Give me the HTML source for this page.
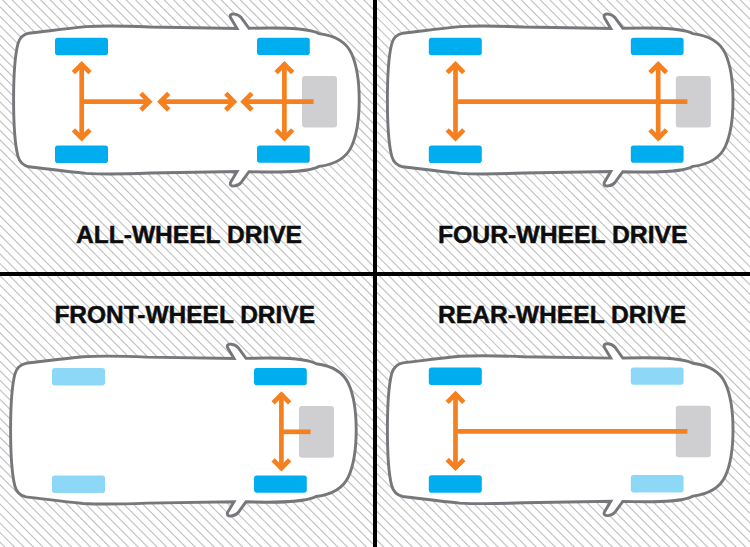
<!DOCTYPE html>
<html><head><meta charset="utf-8">
<style>
html,body{margin:0;padding:0;background:#fff;}
body{width:750px;height:547px;overflow:hidden;position:relative;}
svg{position:absolute;left:0;top:0;display:block;}
.t{font-family:"Liberation Sans",sans-serif;font-weight:bold;fill:#0d0d0d;stroke:#0d0d0d;stroke-width:0.45px;}
</style></head><body>
<svg width="750" height="547" viewBox="0 0 750 547">
<defs>
<clipPath id="q1"><rect x="0" y="0" width="373" height="272"/></clipPath>
<clipPath id="q2"><rect x="377" y="0" width="373" height="272"/></clipPath>
<clipPath id="q3"><rect x="0" y="276" width="373" height="271"/></clipPath>
<clipPath id="q4"><rect x="377" y="276" width="373" height="271"/></clipPath>
</defs>
<rect width="750" height="547" fill="#fff"/>
<path clip-path="url(#q1)" d="M-293.99,-2.00L-17.99,274.00M-284.49,-2.00L-8.49,274.00M-274.98,-2.00L1.02,274.00M-265.48,-2.00L10.52,274.00M-255.97,-2.00L20.03,274.00M-246.47,-2.00L29.53,274.00M-236.96,-2.00L39.04,274.00M-227.46,-2.00L48.54,274.00M-217.95,-2.00L58.05,274.00M-208.44,-2.00L67.56,274.00M-198.94,-2.00L77.06,274.00M-189.44,-2.00L86.56,274.00M-179.93,-2.00L96.07,274.00M-170.43,-2.00L105.57,274.00M-160.92,-2.00L115.08,274.00M-151.42,-2.00L124.58,274.00M-141.91,-2.00L134.09,274.00M-132.41,-2.00L143.59,274.00M-122.90,-2.00L153.10,274.00M-113.40,-2.00L162.60,274.00M-103.89,-2.00L172.11,274.00M-94.39,-2.00L181.62,274.00M-84.88,-2.00L191.12,274.00M-75.38,-2.00L200.62,274.00M-65.87,-2.00L210.13,274.00M-56.36,-2.00L219.63,274.00M-46.86,-2.00L229.14,274.00M-37.36,-2.00L238.64,274.00M-27.85,-2.00L248.15,274.00M-18.34,-2.00L257.65,274.00M-8.84,-2.00L267.16,274.00M0.67,-2.00L276.67,274.00M10.17,-2.00L286.17,274.00M19.68,-2.00L295.68,274.00M29.18,-2.00L305.18,274.00M38.69,-2.00L314.69,274.00M48.19,-2.00L324.19,274.00M57.70,-2.00L333.70,274.00M67.20,-2.00L343.20,274.00M76.71,-2.00L352.71,274.00M86.21,-2.00L362.21,274.00M95.72,-2.00L371.72,274.00M105.22,-2.00L381.22,274.00M114.73,-2.00L390.73,274.00M124.23,-2.00L400.23,274.00M133.74,-2.00L409.74,274.00M143.24,-2.00L419.24,274.00M152.75,-2.00L428.75,274.00M162.25,-2.00L438.25,274.00M171.76,-2.00L447.75,274.00M181.26,-2.00L457.26,274.00M190.77,-2.00L466.76,274.00M200.27,-2.00L476.27,274.00M209.78,-2.00L485.77,274.00M219.28,-2.00L495.28,274.00M228.78,-2.00L504.78,274.00M238.29,-2.00L514.29,274.00M247.80,-2.00L523.80,274.00M257.30,-2.00L533.30,274.00M266.81,-2.00L542.81,274.00M276.31,-2.00L552.31,274.00M285.82,-2.00L561.82,274.00M295.32,-2.00L571.32,274.00M304.83,-2.00L580.83,274.00M314.33,-2.00L590.33,274.00M323.84,-2.00L599.84,274.00M333.34,-2.00L609.34,274.00M342.85,-2.00L618.85,274.00M352.35,-2.00L628.35,274.00M361.86,-2.00L637.86,274.00M371.36,-2.00L647.36,274.00M380.87,-2.00L656.87,274.00M390.37,-2.00L666.37,274.00" stroke="#c4c4c4" stroke-width="1.2" fill="none"/>
<path clip-path="url(#q2)" d="M81.42,-2.00L357.42,274.00M90.94,-2.00L366.94,274.00M100.46,-2.00L376.46,274.00M109.98,-2.00L385.98,274.00M119.50,-2.00L395.50,274.00M129.02,-2.00L405.02,274.00M138.54,-2.00L414.54,274.00M148.06,-2.00L424.06,274.00M157.58,-2.00L433.58,274.00M167.10,-2.00L443.10,274.00M176.62,-2.00L452.62,274.00M186.14,-2.00L462.14,274.00M195.66,-2.00L471.66,274.00M205.18,-2.00L481.18,274.00M214.70,-2.00L490.70,274.00M224.22,-2.00L500.22,274.00M233.74,-2.00L509.74,274.00M243.26,-2.00L519.26,274.00M252.78,-2.00L528.78,274.00M262.30,-2.00L538.30,274.00M271.82,-2.00L547.82,274.00M281.34,-2.00L557.34,274.00M290.86,-2.00L566.86,274.00M300.38,-2.00L576.38,274.00M309.90,-2.00L585.90,274.00M319.42,-2.00L595.42,274.00M328.94,-2.00L604.94,274.00M338.46,-2.00L614.46,274.00M347.98,-2.00L623.98,274.00M357.50,-2.00L633.50,274.00M367.02,-2.00L643.02,274.00M376.54,-2.00L652.54,274.00M386.06,-2.00L662.06,274.00M395.58,-2.00L671.58,274.00M405.10,-2.00L681.10,274.00M414.62,-2.00L690.62,274.00M424.14,-2.00L700.14,274.00M433.66,-2.00L709.66,274.00M443.18,-2.00L719.18,274.00M452.70,-2.00L728.70,274.00M462.22,-2.00L738.22,274.00M471.74,-2.00L747.74,274.00M481.26,-2.00L757.26,274.00M490.78,-2.00L766.78,274.00M500.30,-2.00L776.30,274.00M509.82,-2.00L785.82,274.00M519.34,-2.00L795.34,274.00M528.86,-2.00L804.86,274.00M538.38,-2.00L814.38,274.00M547.90,-2.00L823.90,274.00M557.42,-2.00L833.42,274.00M566.94,-2.00L842.94,274.00M576.46,-2.00L852.46,274.00M585.98,-2.00L861.98,274.00M595.50,-2.00L871.50,274.00M605.02,-2.00L881.02,274.00M614.54,-2.00L890.54,274.00M624.06,-2.00L900.06,274.00M633.58,-2.00L909.58,274.00M643.10,-2.00L919.10,274.00M652.62,-2.00L928.62,274.00M662.14,-2.00L938.14,274.00M671.66,-2.00L947.66,274.00M681.18,-2.00L957.18,274.00M690.70,-2.00L966.70,274.00M700.22,-2.00L976.22,274.00M709.74,-2.00L985.74,274.00M719.26,-2.00L995.26,274.00M728.78,-2.00L1004.78,274.00M738.30,-2.00L1014.30,274.00M747.82,-2.00L1023.82,274.00M757.34,-2.00L1033.34,274.00M766.86,-2.00L1042.86,274.00M776.38,-2.00L1052.38,274.00" stroke="#c4c4c4" stroke-width="1.2" fill="none"/>
<path clip-path="url(#q3)" d="M-296.56,274.00L-21.56,549.00M-287.05,274.00L-12.05,549.00M-277.54,274.00L-2.54,549.00M-268.03,274.00L6.97,549.00M-258.52,274.00L16.48,549.00M-249.01,274.00L25.99,549.00M-239.50,274.00L35.50,549.00M-229.99,274.00L45.01,549.00M-220.48,274.00L54.52,549.00M-210.97,274.00L64.03,549.00M-201.46,274.00L73.54,549.00M-191.95,274.00L83.05,549.00M-182.44,274.00L92.56,549.00M-172.93,274.00L102.07,549.00M-163.42,274.00L111.58,549.00M-153.91,274.00L121.09,549.00M-144.40,274.00L130.60,549.00M-134.89,274.00L140.11,549.00M-125.38,274.00L149.62,549.00M-115.87,274.00L159.13,549.00M-106.36,274.00L168.64,549.00M-96.85,274.00L178.15,549.00M-87.34,274.00L187.66,549.00M-77.83,274.00L197.17,549.00M-68.32,274.00L206.68,549.00M-58.81,274.00L216.19,549.00M-49.30,274.00L225.70,549.00M-39.79,274.00L235.21,549.00M-30.28,274.00L244.72,549.00M-20.77,274.00L254.23,549.00M-11.26,274.00L263.74,549.00M-1.75,274.00L273.25,549.00M7.76,274.00L282.76,549.00M17.27,274.00L292.27,549.00M26.78,274.00L301.78,549.00M36.29,274.00L311.29,549.00M45.80,274.00L320.80,549.00M55.31,274.00L330.31,549.00M64.82,274.00L339.82,549.00M74.33,274.00L349.33,549.00M83.84,274.00L358.84,549.00M93.35,274.00L368.35,549.00M102.86,274.00L377.86,549.00M112.37,274.00L387.37,549.00M121.88,274.00L396.88,549.00M131.39,274.00L406.39,549.00M140.90,274.00L415.90,549.00M150.41,274.00L425.41,549.00M159.92,274.00L434.92,549.00M169.43,274.00L444.43,549.00M178.94,274.00L453.94,549.00M188.45,274.00L463.45,549.00M197.96,274.00L472.96,549.00M207.47,274.00L482.47,549.00M216.98,274.00L491.98,549.00M226.49,274.00L501.49,549.00M236.00,274.00L511.00,549.00M245.51,274.00L520.51,549.00M255.02,274.00L530.02,549.00M264.53,274.00L539.53,549.00M274.04,274.00L549.04,549.00M283.55,274.00L558.55,549.00M293.06,274.00L568.06,549.00M302.57,274.00L577.57,549.00M312.08,274.00L587.08,549.00M321.59,274.00L596.59,549.00M331.10,274.00L606.10,549.00M340.61,274.00L615.61,549.00M350.12,274.00L625.12,549.00M359.63,274.00L634.63,549.00M369.14,274.00L644.14,549.00M378.65,274.00L653.65,549.00M388.16,274.00L663.16,549.00M397.67,274.00L672.67,549.00" stroke="#c4c4c4" stroke-width="1.2" fill="none"/>
<path clip-path="url(#q4)" d="M82.28,274.00L357.28,549.00M91.80,274.00L366.80,549.00M101.32,274.00L376.32,549.00M110.84,274.00L385.84,549.00M120.36,274.00L395.36,549.00M129.88,274.00L404.88,549.00M139.40,274.00L414.40,549.00M148.92,274.00L423.92,549.00M158.44,274.00L433.44,549.00M167.96,274.00L442.96,549.00M177.48,274.00L452.48,549.00M187.00,274.00L462.00,549.00M196.52,274.00L471.52,549.00M206.04,274.00L481.04,549.00M215.56,274.00L490.56,549.00M225.08,274.00L500.08,549.00M234.60,274.00L509.60,549.00M244.12,274.00L519.12,549.00M253.64,274.00L528.64,549.00M263.16,274.00L538.16,549.00M272.68,274.00L547.68,549.00M282.20,274.00L557.20,549.00M291.72,274.00L566.72,549.00M301.24,274.00L576.24,549.00M310.76,274.00L585.76,549.00M320.28,274.00L595.28,549.00M329.80,274.00L604.80,549.00M339.32,274.00L614.32,549.00M348.84,274.00L623.84,549.00M358.36,274.00L633.36,549.00M367.88,274.00L642.88,549.00M377.40,274.00L652.40,549.00M386.92,274.00L661.92,549.00M396.44,274.00L671.44,549.00M405.96,274.00L680.96,549.00M415.48,274.00L690.48,549.00M425.00,274.00L700.00,549.00M434.52,274.00L709.52,549.00M444.04,274.00L719.04,549.00M453.56,274.00L728.56,549.00M463.08,274.00L738.08,549.00M472.60,274.00L747.60,549.00M482.12,274.00L757.12,549.00M491.64,274.00L766.64,549.00M501.16,274.00L776.16,549.00M510.68,274.00L785.68,549.00M520.20,274.00L795.20,549.00M529.72,274.00L804.72,549.00M539.24,274.00L814.24,549.00M548.76,274.00L823.76,549.00M558.28,274.00L833.28,549.00M567.80,274.00L842.80,549.00M577.32,274.00L852.32,549.00M586.84,274.00L861.84,549.00M596.36,274.00L871.36,549.00M605.88,274.00L880.88,549.00M615.40,274.00L890.40,549.00M624.92,274.00L899.92,549.00M634.44,274.00L909.44,549.00M643.96,274.00L918.96,549.00M653.48,274.00L928.48,549.00M663.00,274.00L938.00,549.00M672.52,274.00L947.52,549.00M682.04,274.00L957.04,549.00M691.56,274.00L966.56,549.00M701.08,274.00L976.08,549.00M710.60,274.00L985.60,549.00M720.12,274.00L995.12,549.00M729.64,274.00L1004.64,549.00M739.16,274.00L1014.16,549.00M748.68,274.00L1023.68,549.00M758.20,274.00L1033.20,549.00M767.72,274.00L1042.72,549.00" stroke="#c4c4c4" stroke-width="1.2" fill="none"/>
<g transform="translate(0,0)"><path d="M13.60,100.00C13.60,82.00 14.80,56.00 17.90,44.00C19.40,38.20 22.20,34.60 29.00,33.20C45.00,31.60 62.00,28.80 86.00,26.60C105.00,25.60 125.00,26.00 150.00,27.00L237.00,28.40L230.80,18.00C229.20,14.80 231.50,13.80 234.50,14.10C237.50,14.40 239.50,15.60 241.40,17.80L249.00,28.30C275.00,27.60 303.00,27.20 316.50,32.40L319.00,33.60C333.00,35.30 345.50,40.50 351.50,53.50C356.50,64.50 359.20,80.00 359.20,100.00C359.20,120.00 356.50,135.50 351.50,146.50C345.50,159.50 333.00,164.70 319.00,166.40L316.50,167.60C303.00,172.80 275.00,172.40 249.00,171.70L241.40,182.20C239.50,184.40 237.50,185.60 234.50,185.90C231.50,186.20 229.20,185.20 230.80,182.00L237.00,171.60L150.00,173.00C125.00,174.00 105.00,174.40 86.00,173.40C62.00,171.20 45.00,168.40 29.00,166.80C22.20,165.40 19.40,161.80 17.90,156.00C14.80,144.00 13.60,118.00 13.60,100.00Z" fill="#fff" stroke="#76777b" stroke-width="2.9"/>
<rect x="55.0" y="37.8" width="53" height="17.5" rx="2.8" fill="#00aeef"/>
<rect x="55.0" y="145.5" width="53" height="17.5" rx="2.8" fill="#00aeef"/>
<rect x="257.0" y="37.8" width="52.8" height="17.3" rx="2.8" fill="#00aeef"/>
<rect x="257.0" y="145.4" width="52.8" height="17.3" rx="2.8" fill="#00aeef"/>
<rect x="302" y="76" width="35" height="51.6" rx="3" fill="#cfcfd2"/>
<g fill="none" stroke="#f5801f" stroke-width="4.7" stroke-linejoin="miter" stroke-miterlimit="4">
<line x1="81.7" y1="63.2" x2="81.7" y2="139.3"/><polyline points="73.4,72.7 81.7,64.4 90.0,72.7"/><polyline points="73.4,129.8 81.7,138.10000000000002 90.0,129.8"/>
<line x1="284.4" y1="63.2" x2="284.4" y2="139.3"/><polyline points="276.09999999999997,72.7 284.4,64.4 292.7,72.7"/><polyline points="276.09999999999997,129.8 284.4,138.10000000000002 292.7,129.8"/>
<line x1="81.7" y1="101.7" x2="150" y2="101.7"/><polyline points="140.9,93.4 149.20000000000002,101.7 140.9,110.0"/>
<line x1="159.5" y1="101.7" x2="235" y2="101.7"/><polyline points="168.7,93.4 160.39999999999998,101.7 168.7,110.0"/><polyline points="225.7,93.4 234.0,101.7 225.7,110.0"/>
<line x1="242.5" y1="101.7" x2="313.6" y2="101.7"/><polyline points="251.9,93.4 243.6,101.7 251.9,110.0"/>
</g></g>
<g transform="translate(373.8,0)"><path d="M13.60,100.00C13.60,82.00 14.80,56.00 17.90,44.00C19.40,38.20 22.20,34.60 29.00,33.20C45.00,31.60 62.00,28.80 86.00,26.60C105.00,25.60 125.00,26.00 150.00,27.00L237.00,28.40L230.80,18.00C229.20,14.80 231.50,13.80 234.50,14.10C237.50,14.40 239.50,15.60 241.40,17.80L249.00,28.30C275.00,27.60 303.00,27.20 316.50,32.40L319.00,33.60C333.00,35.30 345.50,40.50 351.50,53.50C356.50,64.50 359.20,80.00 359.20,100.00C359.20,120.00 356.50,135.50 351.50,146.50C345.50,159.50 333.00,164.70 319.00,166.40L316.50,167.60C303.00,172.80 275.00,172.40 249.00,171.70L241.40,182.20C239.50,184.40 237.50,185.60 234.50,185.90C231.50,186.20 229.20,185.20 230.80,182.00L237.00,171.60L150.00,173.00C125.00,174.00 105.00,174.40 86.00,173.40C62.00,171.20 45.00,168.40 29.00,166.80C22.20,165.40 19.40,161.80 17.90,156.00C14.80,144.00 13.60,118.00 13.60,100.00Z" fill="#fff" stroke="#76777b" stroke-width="2.9"/>
<rect x="55.0" y="37.8" width="53" height="17.5" rx="2.8" fill="#00aeef"/>
<rect x="55.0" y="145.5" width="53" height="17.5" rx="2.8" fill="#00aeef"/>
<rect x="257.0" y="37.8" width="52.8" height="17.3" rx="2.8" fill="#00aeef"/>
<rect x="257.0" y="145.4" width="52.8" height="17.3" rx="2.8" fill="#00aeef"/>
<rect x="302" y="76" width="35" height="51.6" rx="3" fill="#cfcfd2"/>
<g fill="none" stroke="#f5801f" stroke-width="4.7" stroke-linejoin="miter" stroke-miterlimit="4">
<line x1="81.7" y1="63.2" x2="81.7" y2="139.3"/><polyline points="73.4,72.7 81.7,64.4 90.0,72.7"/><polyline points="73.4,129.8 81.7,138.10000000000002 90.0,129.8"/>
<line x1="284.4" y1="63.2" x2="284.4" y2="139.3"/><polyline points="276.09999999999997,72.7 284.4,64.4 292.7,72.7"/><polyline points="276.09999999999997,129.8 284.4,138.10000000000002 292.7,129.8"/>
<line x1="81.7" y1="101.7" x2="313.6" y2="101.7"/>
</g></g>
<g transform="translate(-3,330.1)"><path d="M13.60,100.00C13.60,82.00 14.80,56.00 17.90,44.00C19.40,38.20 22.20,34.60 29.00,33.20C45.00,31.60 62.00,28.80 86.00,26.60C105.00,25.60 125.00,26.00 150.00,27.00L237.00,28.40L230.80,18.00C229.20,14.80 231.50,13.80 234.50,14.10C237.50,14.40 239.50,15.60 241.40,17.80L249.00,28.30C275.00,27.60 303.00,27.20 316.50,32.40L319.00,33.60C333.00,35.30 345.50,40.50 351.50,53.50C356.50,64.50 359.20,80.00 359.20,100.00C359.20,120.00 356.50,135.50 351.50,146.50C345.50,159.50 333.00,164.70 319.00,166.40L316.50,167.60C303.00,172.80 275.00,172.40 249.00,171.70L241.40,182.20C239.50,184.40 237.50,185.60 234.50,185.90C231.50,186.20 229.20,185.20 230.80,182.00L237.00,171.60L150.00,173.00C125.00,174.00 105.00,174.40 86.00,173.40C62.00,171.20 45.00,168.40 29.00,166.80C22.20,165.40 19.40,161.80 17.90,156.00C14.80,144.00 13.60,118.00 13.60,100.00Z" fill="#fff" stroke="#76777b" stroke-width="2.9"/>
<rect x="55.0" y="37.8" width="53" height="17.5" rx="2.8" fill="#8dd7f7"/>
<rect x="55.0" y="145.5" width="53" height="17.5" rx="2.8" fill="#8dd7f7"/>
<rect x="257.0" y="37.8" width="52.8" height="17.3" rx="2.8" fill="#00aeef"/>
<rect x="257.0" y="145.4" width="52.8" height="17.3" rx="2.8" fill="#00aeef"/>
<rect x="302" y="76" width="35" height="51.6" rx="3" fill="#cfcfd2"/>
<g fill="none" stroke="#f5801f" stroke-width="4.7" stroke-linejoin="miter" stroke-miterlimit="4">
<line x1="284.4" y1="63.2" x2="284.4" y2="139.3"/><polyline points="276.09999999999997,72.7 284.4,64.4 292.7,72.7"/><polyline points="276.09999999999997,129.8 284.4,138.10000000000002 292.7,129.8"/>
<line x1="284.4" y1="101.7" x2="313.6" y2="101.7"/>
</g></g>
<g transform="translate(373.8,329.7)"><path d="M13.60,100.00C13.60,82.00 14.80,56.00 17.90,44.00C19.40,38.20 22.20,34.60 29.00,33.20C45.00,31.60 62.00,28.80 86.00,26.60C105.00,25.60 125.00,26.00 150.00,27.00L237.00,28.40L230.80,18.00C229.20,14.80 231.50,13.80 234.50,14.10C237.50,14.40 239.50,15.60 241.40,17.80L249.00,28.30C275.00,27.60 303.00,27.20 316.50,32.40L319.00,33.60C333.00,35.30 345.50,40.50 351.50,53.50C356.50,64.50 359.20,80.00 359.20,100.00C359.20,120.00 356.50,135.50 351.50,146.50C345.50,159.50 333.00,164.70 319.00,166.40L316.50,167.60C303.00,172.80 275.00,172.40 249.00,171.70L241.40,182.20C239.50,184.40 237.50,185.60 234.50,185.90C231.50,186.20 229.20,185.20 230.80,182.00L237.00,171.60L150.00,173.00C125.00,174.00 105.00,174.40 86.00,173.40C62.00,171.20 45.00,168.40 29.00,166.80C22.20,165.40 19.40,161.80 17.90,156.00C14.80,144.00 13.60,118.00 13.60,100.00Z" fill="#fff" stroke="#76777b" stroke-width="2.9"/>
<rect x="55.0" y="37.8" width="53" height="17.5" rx="2.8" fill="#00aeef"/>
<rect x="55.0" y="145.5" width="53" height="17.5" rx="2.8" fill="#00aeef"/>
<rect x="257.0" y="37.8" width="52.8" height="17.3" rx="2.8" fill="#8dd7f7"/>
<rect x="257.0" y="145.4" width="52.8" height="17.3" rx="2.8" fill="#8dd7f7"/>
<rect x="302" y="76" width="35" height="51.6" rx="3" fill="#cfcfd2"/>
<g fill="none" stroke="#f5801f" stroke-width="4.7" stroke-linejoin="miter" stroke-miterlimit="4">
<line x1="81.7" y1="63.2" x2="81.7" y2="139.3"/><polyline points="73.4,72.7 81.7,64.4 90.0,72.7"/><polyline points="73.4,129.8 81.7,138.10000000000002 90.0,129.8"/>
<line x1="81.7" y1="101.7" x2="313.6" y2="101.7"/>
</g></g>
<text class="t" x="76" y="243.2" font-size="23.5" textLength="226" lengthAdjust="spacingAndGlyphs">ALL-WHEEL DRIVE</text>
<text class="t" x="438" y="243.1" font-size="23.5" textLength="249.6" lengthAdjust="spacingAndGlyphs">FOUR-WHEEL DRIVE</text>
<text class="t" x="54.4" y="322.8" font-size="23.5" textLength="260.6" lengthAdjust="spacingAndGlyphs">FRONT-WHEEL DRIVE</text>
<text class="t" x="438" y="323.2" font-size="23.5" textLength="248.2" lengthAdjust="spacingAndGlyphs">REAR-WHEEL DRIVE</text>
<rect x="373" y="0" width="4" height="547" fill="#000"/>
<rect x="0" y="272" width="750" height="4" fill="#000"/>
</svg>
</body></html>
